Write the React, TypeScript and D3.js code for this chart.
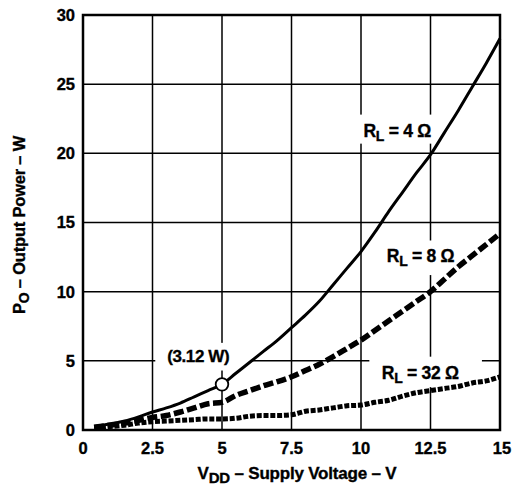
import React from "react";
import * as d3 from "d3";

const voltages = [0.4, 1, 1.5, 2, 2.5, 3, 3.5, 4, 4.5, 5, 5.5, 6, 6.5, 7, 7.5, 8, 8.5, 9, 9.5, 10, 10.5, 11, 11.5, 12, 12.5, 13, 13.5, 14, 14.5, 15];
const power4 = [0.25, 0.45, 0.65, 0.95, 1.3, 1.6, 1.95, 2.4, 2.85, 3.3, 4.1, 4.9, 5.7, 6.5, 7.4, 8.3, 9.3, 10.5, 11.7, 12.9, 14.3, 15.8, 17.2, 18.6, 19.9, 21.5, 23.1, 24.8, 26.5, 28.3];
const power8 = [0.2, 0.35, 0.5, 0.7, 0.9, 1.05, 1.3, 1.6, 1.9, 2.0, 2.5, 2.85, 3.2, 3.5, 3.85, 4.3, 4.75, 5.3, 5.9, 6.5, 7.2, 7.9, 8.6, 9.3, 10.0, 10.9, 11.8, 12.6, 13.4, 14.2];
const power32 = [0.15, 0.25, 0.35, 0.5, 0.6, 0.65, 0.7, 0.75, 0.8, 0.8, 0.85, 1.0, 1.05, 1.05, 1.1, 1.35, 1.45, 1.6, 1.75, 1.8, 2.0, 2.15, 2.45, 2.7, 2.85, 3.0, 3.15, 3.4, 3.55, 3.85];
const xTicks = [0, 2.5, 5, 7.5, 10, 12.5, 15];
const xTickLabels = ["0", "2.5", "5", "7.5", "10", "12.5", "15"];
const yTicks = [0, 5, 10, 15, 20, 25, 30];
const markerVoltage = 5;
const markerLabel = "(3.12 W)";

const W = 513, H = 487;
const x = d3.scaleLinear().domain([0, 15]).range([83, 500]);
const y = d3.scaleLinear().domain([0, 30]).range([430, 15]);

const FONT = "'Liberation Sans', Arial, Helvetica, sans-serif";

const line = d3
  .line<[number, number]>()
  .x((d) => x(d[0]))
  .y((d) => y(d[1]))
  .curve(d3.curveMonotoneX);

const series = [
  { r: "4", values: power4, width: 3, dash: null as string | null },
  { r: "8", values: power8, width: 5.5, dash: "10,3.5" },
  { r: "32", values: power32, width: 5, dash: "5,1.8" },
];

// label annotations in data coordinates (text start / baseline) with mask boxes
const labels = [
  { r: "4", tx: 10.09, ty: 21.2, box: [9.9, 22.8, 12.9, 20.7] },
  { r: "8", tx: 10.93, ty: 12.15, box: [10.65, 13.7, 13.8, 11.2] },
  { r: "32", tx: 10.75, ty: 3.67, box: [10.3, 5.3, 14.35, 3.1] },
];

const textStyle = { stroke: "#000", strokeWidth: 0.35 } as const;

export default function App() {
  const mIdx = voltages.indexOf(markerVoltage);
  const mx = x(voltages[mIdx]);
  const my = y(power4[mIdx]);
  return (
    <svg
      width={W}
      height={H}
      style={{ position: "absolute", left: 0, top: 0, background: "#fff" }}
      fontFamily={FONT}
      fontWeight="bold"
    >
      <rect x={0} y={0} width={W} height={H} fill="#fff" />
      {/* grid */}
      {xTicks.map((t) => (
        <line key={"gx" + t} x1={x(t)} x2={x(t)} y1={y(0)} y2={y(30)} stroke="#000" strokeWidth={1.5} />
      ))}
      {yTicks.map((t) => (
        <line key={"gy" + t} x1={x(0)} x2={x(15)} y1={y(t)} y2={y(t)} stroke="#000" strokeWidth={1.5} />
      ))}
      {/* label mask boxes */}
      {labels.map((l) => (
        <rect
          key={"b" + l.r}
          x={x(l.box[0])}
          y={y(l.box[1])}
          width={x(l.box[2]) - x(l.box[0])}
          height={y(l.box[3]) - y(l.box[1])}
          fill="#fff"
        />
      ))}
      <rect x={x(2.6)} y={y(6.3)} width={x(6.05) - x(2.6)} height={y(4.3) - y(6.3)} fill="#fff" />
      {/* frame */}
      <rect x={x(0)} y={y(30)} width={x(15) - x(0)} height={y(0) - y(30)} fill="none" stroke="#000" strokeWidth={2.5} />
      {/* curves */}
      {series.map((s) => (
        <path
          key={"s" + s.r}
          d={line(voltages.map((v, i) => [v, s.values[i]] as [number, number])) || ""}
          fill="none"
          stroke="#000"
          strokeWidth={s.width}
          strokeDasharray={s.dash || undefined}
          strokeLinecap="butt"
          strokeLinejoin="round"
        />
      ))}
      {/* marker */}
      <circle cx={mx} cy={my} r={6.3} fill="#fff" stroke="#000" strokeWidth={1.8} />
      <text x={x(3.03)} y={y(4.94)} fontSize={17} letterSpacing={-0.4} style={textStyle}>
        {markerLabel}
      </text>
      {/* series labels */}
      {labels.map((l) => (
        <text key={"t" + l.r} x={x(l.tx)} y={y(l.ty)} fontSize={17.5} letterSpacing={-0.3} style={textStyle}>
          R
          <tspan fontSize={14} dy={4}>L</tspan>
          <tspan dy={-4}>{" = " + l.r + " Ω"}</tspan>
        </text>
      ))}
      {/* y tick labels */}
      {yTicks.map((t) => (
        <text key={"yt" + t} x={75} y={y(t)} dy="0.36em" textAnchor="end" fontSize={16.5} style={textStyle}>
          {t}
        </text>
      ))}
      {/* x tick labels */}
      {xTicks.map((t, i) => (
        <text key={"xt" + t} x={x(t) + (t === 15 ? 2 : 0)} y={454} textAnchor="middle" fontSize={16.5} style={textStyle}>
          {xTickLabels[i]}
        </text>
      ))}
      {/* axis titles */}
      <text x={297} y={479} textAnchor="middle" fontSize={17} letterSpacing={-0.2} style={textStyle}>
        V<tspan fontSize={15} dy={4}>DD</tspan>
        <tspan dy={-4}>{" – Supply Voltage – V"}</tspan>
      </text>
      <text transform={`translate(25, ${225}) rotate(-90)`} textAnchor="middle" fontSize={16.5} letterSpacing={-0.2} style={textStyle}>
        P<tspan fontSize={14} dy={4}>O</tspan>
        <tspan dy={-4}>{" – Output Power – W"}</tspan>
      </text>
    </svg>
  );
}
